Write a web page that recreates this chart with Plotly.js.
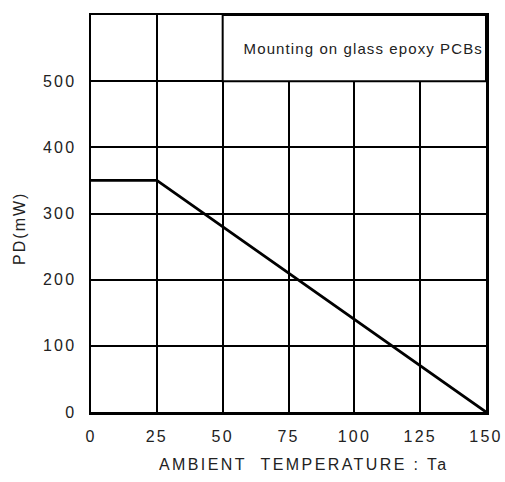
<!DOCTYPE html>
<html>
<head>
<meta charset="utf-8">
<script src="https://cdn.plot.ly/plotly-3.0.1.min.js"></script>
<style>
html,body{margin:0;padding:0;background:#fff}
#chart{width:505px;height:482px}
#chart .xtick text, #chart .ytick text{letter-spacing:2.2px}
#chart .annotation.x-note text{letter-spacing:2.4px}
#chart .annotation.y-note text{letter-spacing:2px}
#chart .annotation.pcb-note text{letter-spacing:1.1px}
</style>
</head>
<body>
<div id="chart"></div>
<script>
var temperature = [0, 25, 150];
var powerDissipation = [350, 350, 0];
var xTickVals = [0, 25, 50, 75, 100, 125, 150];
var yTickVals = [0, 100, 200, 300, 400, 500];
var xTitle = "AMBIENT&nbsp;&nbsp;TEMPERATURE : Ta";
var yTitle = "PD(mW)";
var noteText = "Mounting on glass epoxy PCBs";

var font = "Liberation Sans, Arial, sans-serif";
var txt = "#222";

var trace = {
  x: temperature, y: powerDissipation, type: "scatter", mode: "lines",
  line: {color: "#000", width: 2.8}, hoverinfo: "skip", showlegend: false
};

var layout = {
  width: 505, height: 482,
  margin: {l: 91, r: 19, t: 15, b: 70},
  paper_bgcolor: "#fff", plot_bgcolor: "#fff",
  font: {family: font, color: txt, size: 16},
  xaxis: {
    range: [0, 150], tickvals: xTickVals, ticks: "", ticklabelstandoff: 8,
    showgrid: true, gridcolor: "#000", gridwidth: 2,
    showline: true, linecolor: "#000", linewidth: 2.5, mirror: true,
    zeroline: false, fixedrange: true,
    tickfont: {size: 16, family: font, color: txt}
  },
  yaxis: {
    range: [0, 600], tickvals: yTickVals, ticks: "", ticklabelstandoff: 9,
    showgrid: true, gridcolor: "#000", gridwidth: 2,
    showline: true, linecolor: "#000", linewidth: 2.5, mirror: true,
    zeroline: false, fixedrange: true,
    tickfont: {size: 16, family: font, color: txt}
  },
  shapes: [
    {type: "rect", xref: "x", yref: "y", x0: 50, x1: 150, y0: 500, y1: 600,
     fillcolor: "#fff", line: {color: "#000", width: 2}, layer: "between"}
  ],
  annotations: [
    {xref: "x", yref: "y", x: 103.3, y: 550, xanchor: "center", yanchor: "middle",
     text: noteText, showarrow: false, font: {size: 15, family: font, color: txt}},
    {xref: "paper", yref: "paper", x: 0.539, y: -0.1335, xanchor: "center", yanchor: "middle",
     text: xTitle, showarrow: false, font: {size: 16, family: font, color: txt}},
    {xref: "paper", yref: "paper", x: -0.18, y: 0.4635, xanchor: "center", yanchor: "middle",
     textangle: -90, text: yTitle, showarrow: false, font: {size: 16, family: font, color: txt}}
  ]
};

Plotly.newPlot("chart", [trace], layout, {staticPlot: true, displayModeBar: false}).then(function(gd){
  var names = ["pcb-note", "x-note", "y-note"];
  gd.querySelectorAll(".annotation").forEach(function(a, i){ a.classList.add(names[i]); });
});
</script>
</body>
</html>
